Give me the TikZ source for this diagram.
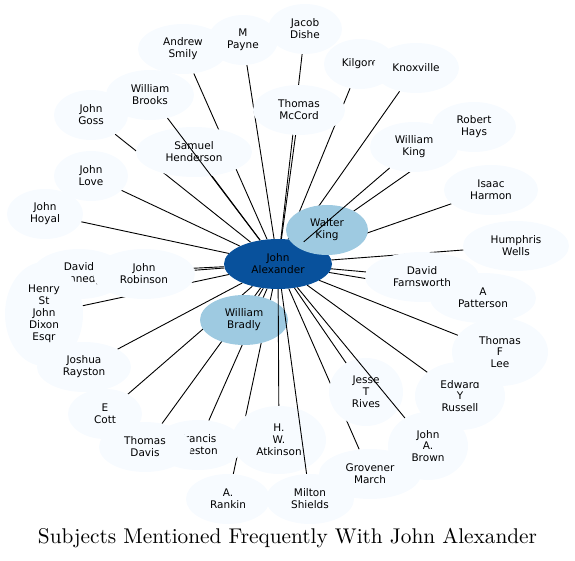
\documentclass[tikz,border=0pt]{standalone}
\usepackage{fontspec}
\usepackage{tikz}
\usetikzlibrary{shapes.geometric,backgrounds}
\newfontfamily\gvsans{DejaVu Sans}
\definecolor{gvpale}{HTML}{F7FBFF}
\definecolor{gvmid}{HTML}{9ECAE1}
\definecolor{gvdark}{HTML}{08519C}

\begin{document}
\begin{tikzpicture}[
  x=1pt,y=-1pt,
  p/.style={ellipse,fill=gvpale,inner sep=0pt,minimum height=50pt,
            align=center,font=\gvsans\fontsize{10.5}{11.9}\selectfont},
  mid/.style={p,fill=gvmid},
  hub/.style={p,fill=gvdark},
  tall/.style={minimum height=68pt},
  link/.style={draw=black,line width=0.9pt}
]
\useasboundingbox (0,0) rectangle (575,561);

\node[hub,minimum width=108pt] (alexander) at (278,264) {John\\Alexander};
\node[mid,minimum width=82pt] (wking) at (327,230) {Walter\\King};
\node[mid,minimum width=88pt] (bradly) at (244,320) {William\\Bradly};
\node[p,minimum width=74pt] (dishe) at (305,29) {Jacob\\Dishe};
\node[p,minimum width=90pt] (smily) at (183,49) {Andrew\\Smily};
\node[p,minimum width=70pt] (payne) at (243,40) {M\\Payne};
\node[p,minimum width=92pt] (mccord) at (299,110) {Thomas\\McCord};
\node[p,minimum width=72pt] (kilgore) at (360,64) {Kilgore};
\node[p,minimum width=86pt] (knoxville) at (416,68) {Knoxville};
\node[p,minimum width=88pt] (brooks) at (150,95) {William\\Brooks};
\node[p,minimum width=74pt] (goss) at (91,115) {John\\Goss};
\node[p,minimum width=116pt] (henderson) at (194,152) {Samuel\\Henderson};
\node[p,minimum width=84pt] (hays) at (474,127) {Robert\\Hays};
\node[p,minimum width=88pt] (king) at (414,147) {William\\King};
\node[p,minimum width=94pt] (harmon) at (491,190) {Isaac\\Harmon};
\node[p,minimum width=74pt] (love) at (91,176) {John\\Love};
\node[p,minimum width=76pt] (hoyal) at (45,214) {John\\Hoyal};
\node[p,minimum width=106pt] (wells) at (516,246) {Humphris\\Wells};
\node[p,minimum width=94pt] (kennedy) at (79,274) {David\\Kennedy};
\node[p,minimum width=102pt] (robinson) at (144,274) {John\\Robinson};
\node[p,minimum width=78pt,minimum height=104pt] (dixon) at (44,314) {Henry\\St\\John\\Dixon\\Esqr};
\node[p,minimum width=106pt] (patterson) at (483,298) {A\\Patterson};
\node[p,minimum width=114pt] (farnsworth) at (422,277) {David\\Farnsworth};
\node[p,minimum width=94pt] (rayston) at (84,367) {Joshua\\Rayston};
\node[p,tall,minimum width=90pt] (russell) at (460,396) {Edward\\Y\\Russell};
\node[p,tall,minimum width=96pt] (lee) at (500,352) {Thomas\\F\\Lee};
\node[p,tall,minimum width=74pt] (rives) at (366,392) {Jesse\\T\\Rives};
\node[p,minimum width=74pt] (cott) at (105,414) {E\\Cott};
\node[p,minimum width=90pt] (preston) at (198,445) {Francis\\Preston};
\node[p,minimum width=92pt] (davis) at (145,447) {Thomas\\Davis};
\node[p,tall,minimum width=94pt] (atkinson) at (279,440) {H.\\W.\\Atkinson};
\node[p,minimum width=84pt] (rankin) at (228,499) {A.\\Rankin};
\node[p,minimum width=88pt] (shields) at (310,499) {Milton\\Shields};
\node[p,minimum width=102pt] (march) at (370,474) {Grovener\\March};
\node[p,tall,minimum width=80pt] (brown) at (428,446) {John\\A.\\Brown};

\node[scale=2.13] (title) at (287.5,538) {Subjects Mentioned Frequently With John Alexander};

% most links run under the ellipses
\begin{scope}[on background layer]
\draw[link] (alexander) -- (wking);
\draw[link] (alexander) -- (bradly);
\draw[link] (alexander) -- (dishe);
\draw[link] (alexander) -- (smily);
\draw[link] (alexander) -- (payne);
\draw[link] (alexander) -- (mccord);
\draw[link] (alexander) -- (kilgore);
\draw[link] (alexander) -- (knoxville);
\draw[link] (alexander) -- (goss);
\draw[link] (alexander) -- (henderson);
\draw[link] (alexander) -- (hays);
\draw[link] (alexander) -- (harmon);
\draw[link] (alexander) -- (love);
\draw[link] (alexander) -- (hoyal);
\draw[link] (alexander) -- (wells);
\draw[link] (alexander) -- (kennedy);
\draw[link] (alexander) -- (robinson);
\draw[link] (alexander) -- (dixon);
\draw[link] (alexander) -- (patterson);
\draw[link] (alexander) -- (farnsworth);
\draw[link] (alexander) -- (rayston);
\draw[link] (alexander) -- (russell);
\draw[link] (alexander) -- (lee);
\draw[link] (alexander) -- (rives);
\draw[link] (alexander) -- (cott);
\draw[link] (alexander) -- (preston);
\draw[link] (alexander) -- (davis);
\draw[link] (alexander) -- (rankin);
\draw[link] (alexander) -- (march);
\end{scope}

% these few cross over other ellipses
\draw[link] (alexander) -- (brooks);
\draw[link] (alexander) -- (king);
\draw[link] (alexander) -- (brown);
\draw[link] (alexander) -- (atkinson);
\draw[link] (alexander) -- (shields);
\end{tikzpicture}
\end{document}
